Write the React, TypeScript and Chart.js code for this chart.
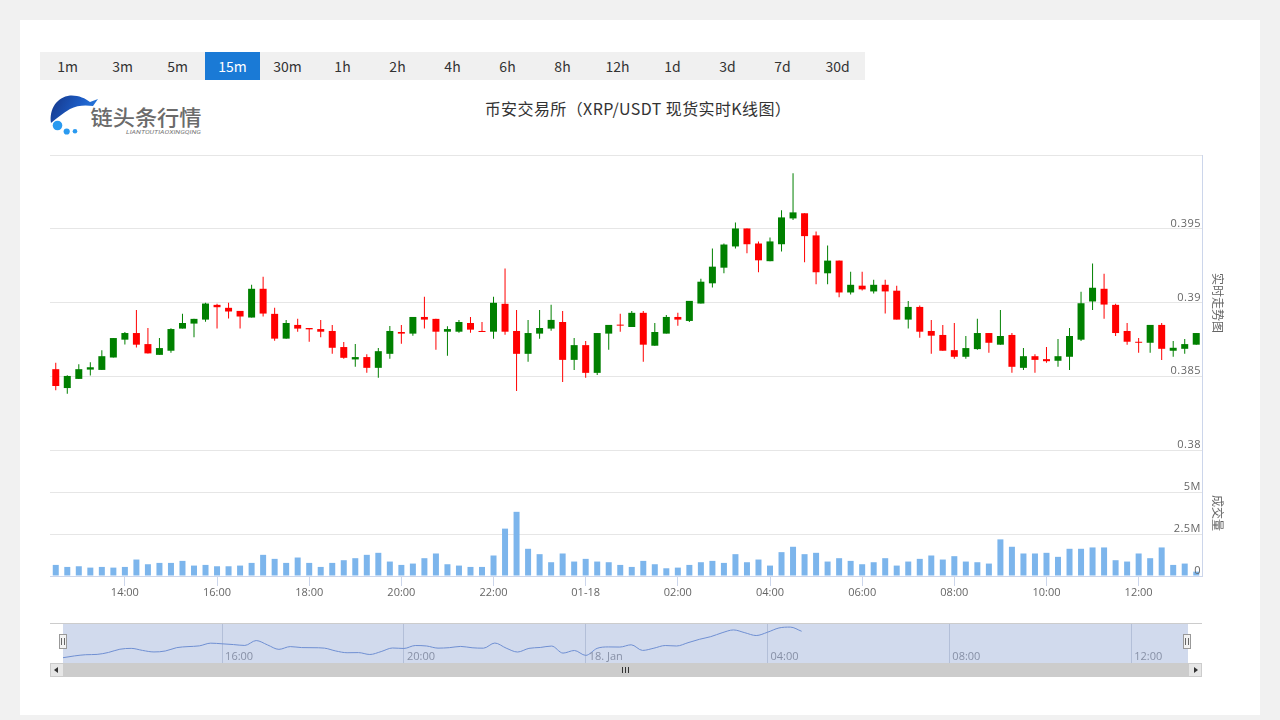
import React, { useEffect, useRef } from 'react';
import { Chart, registerables } from 'chart.js';

Chart.register(...registerables);

// ---------- texts ----------
const intervals = ['1m', '3m', '5m', '15m', '30m', '1h', '2h', '4h', '6h', '8h', '12h', '1d', '3d', '7d', '30d'];
const activeInterval = '15m';
const chartTitle = '币安交易所（XRP/USDT 现货实时K线图）';
const priceAxisTitle = '实时走势图';
const volumeAxisTitle = '成交量';

// ---------- data (15m candles, 12:30 -> 13:15 next day) ----------
const opens = [
  0.38548, 0.38420, 0.38482, 0.38545, 0.38543, 0.38627, 0.38748, 0.38793, 0.38718, 0.38645,
  0.38673, 0.38823, 0.38857, 0.38884, 0.38984, 0.38964, 0.38943, 0.38898, 0.39093, 0.38923,
  0.38755, 0.38848, 0.38827, 0.38820, 0.38807, 0.38698, 0.38614, 0.38630, 0.38557, 0.38652,
  0.38800, 0.38789, 0.38902, 0.38889, 0.38802, 0.38802, 0.38861, 0.38807, 0.38802, 0.38991,
  0.38807, 0.38652, 0.38789, 0.38823, 0.38868, 0.38611, 0.38711, 0.38523, 0.38789, 0.38850,
  0.38834, 0.38930, 0.38707, 0.38789, 0.38902, 0.38875, 0.38993, 0.39130, 0.39236, 0.39380,
  0.39502, 0.39400, 0.39280, 0.39395, 0.39570, 0.39605, 0.39455, 0.39198, 0.39284, 0.39068,
  0.39114, 0.39075, 0.39120, 0.39080, 0.38884, 0.38970, 0.38807, 0.38780, 0.38677, 0.38632,
  0.38684, 0.38793, 0.38714, 0.38780, 0.38557, 0.38636, 0.38616, 0.38605, 0.38632, 0.38748,
  0.39007, 0.39093, 0.38984, 0.38807, 0.38732, 0.38727, 0.38848, 0.38673, 0.38686, 0.38714,
];
const highs = [
  0.38591, 0.38507, 0.38582, 0.38595, 0.38677, 0.38759, 0.38800, 0.38950, 0.38827, 0.38759,
  0.38825, 0.38923, 0.38889, 0.38998, 0.38991, 0.38998, 0.38943, 0.39120, 0.39175, 0.38964,
  0.38882, 0.38889, 0.38827, 0.38882, 0.38848, 0.38732, 0.38718, 0.38650, 0.38691, 0.38841,
  0.38848, 0.38902, 0.39039, 0.38889, 0.38839, 0.38882, 0.38902, 0.38868, 0.39039, 0.39230,
  0.38950, 0.38882, 0.38950, 0.38984, 0.38943, 0.38759, 0.38739, 0.38793, 0.38848, 0.38923,
  0.38943, 0.38943, 0.38861, 0.38916, 0.38930, 0.39011, 0.39161, 0.39366, 0.39400, 0.39543,
  0.39502, 0.39414, 0.39441, 0.39625, 0.39877, 0.39605, 0.39482, 0.39386, 0.39284, 0.39209,
  0.39209, 0.39155, 0.39155, 0.39114, 0.39011, 0.38980, 0.38882, 0.38848, 0.38861, 0.38773,
  0.38889, 0.38793, 0.38950, 0.38793, 0.38691, 0.38650, 0.38698, 0.38752, 0.38827, 0.39073,
  0.39264, 0.39195, 0.38991, 0.38861, 0.38759, 0.38848, 0.38861, 0.38739, 0.38752, 0.38793,
];
const lows = [
  0.38405, 0.38382, 0.38482, 0.38505, 0.38543, 0.38627, 0.38716, 0.38695, 0.38655, 0.38645,
  0.38659, 0.38823, 0.38764, 0.38870, 0.38823, 0.38891, 0.38823, 0.38898, 0.38905, 0.38741,
  0.38755, 0.38802, 0.38734, 0.38764, 0.38652, 0.38618, 0.38564, 0.38523, 0.38489, 0.38618,
  0.38720, 0.38775, 0.38823, 0.38680, 0.38639, 0.38795, 0.38795, 0.38800, 0.38755, 0.38782,
  0.38400, 0.38598, 0.38755, 0.38809, 0.38461, 0.38543, 0.38489, 0.38509, 0.38680, 0.38802,
  0.38834, 0.38598, 0.38707, 0.38789, 0.38843, 0.38868, 0.38993, 0.39102, 0.39198, 0.39366,
  0.39334, 0.39205, 0.39280, 0.39345, 0.39559, 0.39273, 0.39123, 0.39123, 0.39036, 0.39055,
  0.39082, 0.39061, 0.38925, 0.38884, 0.38823, 0.38761, 0.38652, 0.38673, 0.38618, 0.38618,
  0.38680, 0.38659, 0.38714, 0.38523, 0.38543, 0.38523, 0.38591, 0.38564, 0.38543, 0.38739,
  0.38950, 0.38889, 0.38773, 0.38714, 0.38659, 0.38659, 0.38611, 0.38632, 0.38652, 0.38714,
];
const closes = [
  0.38434, 0.38502, 0.38548, 0.38561, 0.38636, 0.38759, 0.38793, 0.38714, 0.38655, 0.38691,
  0.38820, 0.38861, 0.38889, 0.38993, 0.38968, 0.38939, 0.38905, 0.39093, 0.38925, 0.38755,
  0.38861, 0.38823, 0.38818, 0.38802, 0.38693, 0.38625, 0.38630, 0.38557, 0.38670, 0.38807,
  0.38789, 0.38902, 0.38884, 0.38802, 0.38820, 0.38868, 0.38816, 0.38800, 0.38998, 0.38802,
  0.38652, 0.38793, 0.38827, 0.38882, 0.38611, 0.38711, 0.38523, 0.38793, 0.38848, 0.38843,
  0.38930, 0.38714, 0.38800, 0.38902, 0.38884, 0.39011, 0.39141, 0.39243, 0.39393, 0.39502,
  0.39395, 0.39286, 0.39414, 0.39577, 0.39611, 0.39450, 0.39205, 0.39284, 0.39068, 0.39120,
  0.39089, 0.39120, 0.39075, 0.38884, 0.38970, 0.38802, 0.38775, 0.38673, 0.38632, 0.38691,
  0.38793, 0.38727, 0.38773, 0.38564, 0.38636, 0.38611, 0.38602, 0.38636, 0.38773, 0.38995,
  0.39100, 0.38986, 0.38793, 0.38734, 0.38727, 0.38848, 0.38686, 0.38693, 0.38718, 0.38793,
];
// volume, in millions
const volumes = [
  0.66, 0.54, 0.58, 0.50, 0.54, 0.50, 0.54, 0.98, 0.70, 0.78,
  0.78, 0.90, 0.62, 0.66, 0.58, 0.58, 0.62, 0.78, 1.26, 1.02,
  0.78, 1.10, 0.78, 0.54, 0.78, 0.94, 1.06, 1.26, 1.38, 0.86,
  0.66, 0.74, 1.06, 1.34, 0.70, 0.62, 0.54, 0.54, 1.22, 2.82,
  3.82, 1.62, 1.30, 0.82, 1.34, 0.86, 1.02, 0.86, 0.82, 0.66,
  0.54, 0.90, 0.70, 0.46, 0.50, 0.66, 0.82, 0.90, 0.78, 1.30,
  0.82, 0.98, 0.62, 1.42, 1.74, 1.30, 1.38, 0.86, 1.06, 0.90,
  0.70, 0.82, 1.06, 0.62, 0.86, 1.02, 1.22, 0.98, 1.18, 0.86,
  0.82, 0.74, 2.18, 1.74, 1.34, 1.34, 1.38, 1.14, 1.62, 1.62,
  1.70, 1.70, 0.94, 0.86, 1.34, 1.06, 1.70, 0.66, 0.74, 0.26,
];

// time categories (HH:MM every 15 minutes starting 12:30)
const startMinute = 12 * 60 + 30;
const categories: string[] = opens.map((_, i) => {
  const m = (startMinute + i * 15) % 1440;
  return String(Math.floor(m / 60)).padStart(2, '0') + ':' + String(m % 60).padStart(2, '0');
});

// axis ticks
const xTickCats = ['14:00', '16:00', '18:00', '20:00', '22:00', '00:00', '02:00', '04:00', '06:00', '08:00', '10:00', '12:00'];
const xTickLabels = ['14:00', '16:00', '18:00', '20:00', '22:00', '01-18', '02:00', '04:00', '06:00', '08:00', '10:00', '12:00'];
const priceTicks = [0.38, 0.385, 0.39, 0.395];
const priceTickLabels = ['0.38', '0.385', '0.39', '0.395'];
const volumeTicks = [0, 2.5, 5];
const volumeTickLabels = ['0', '2.5M', '5M'];
const navTickCats = ['16:00', '20:00', '00:00', '04:00', '08:00', '12:00'];
const navTickLabels = ['16:00', '20:00', '18. Jan', '04:00', '08:00', '12:00'];
const navPointCount = 66;

const UP = '#008000';
const DOWN = '#ff0000';
const VOL = '#7cb5ec';
const FONT = '"Open Sans", "Noto Sans CJK SC", sans-serif';

const xTickIndex = xTickCats.map((c) => categories.indexOf(c));
const navTickIndex = navTickCats.map((c) => categories.indexOf(c));

const candleColor = (ctx: any) => (closes[ctx.dataIndex] >= opens[ctx.dataIndex] ? UP : DOWN);

const yLabelPlugin = {
  id: 'yLabels',
  afterDraw(chart: any) {
    const { ctx, chartArea } = chart;
    ctx.save();
    ctx.font = '11px ' + FONT;
    ctx.fillStyle = '#666666';
    ctx.textAlign = 'right';
    ctx.textBaseline = 'alphabetic';
    try { ctx.letterSpacing = '0.5px'; } catch (e) { /* ignore */ }
    const py = chart.scales.y;
    priceTicks.forEach((v, k) => {
      ctx.fillText(priceTickLabels[k], chartArea.right - 1, py.getPixelForValue(v) - 2);
    });
    const vy = chart.scales.yv;
    volumeTicks.forEach((v, k) => {
      ctx.fillText(volumeTickLabels[k], chartArea.right - 1, vy.getPixelForValue(v) - 2);
    });
    ctx.restore();
  },
};

const navLabelPlugin = {
  id: 'navLabels',
  afterDraw(chart: any) {
    const { ctx, chartArea } = chart;
    const xs = chart.scales.x;
    ctx.save();
    ctx.font = '11px ' + FONT;
    ctx.fillStyle = '#8790a6';
    ctx.textAlign = 'left';
    ctx.textBaseline = 'alphabetic';
    navTickIndex.forEach((v, k) => {
      ctx.fillText(navTickLabels[k], xs.getPixelForValue(v) + 3, chartArea.bottom - 3);
    });
    ctx.restore();
  },
};

export default function App() {
  const mainRef = useRef<HTMLCanvasElement>(null);
  const navRef = useRef<HTMLCanvasElement>(null);

  useEffect(() => {
    const main = new Chart(mainRef.current as HTMLCanvasElement, {
      type: 'bar',
      data: {
        labels: categories,
        datasets: [
          {
            label: 'body',
            data: opens.map((o, i) => [o, closes[i]]) as any,
            backgroundColor: candleColor as any,
            barThickness: 7,
            minBarLength: 1,
            grouped: false,
            inflateAmount: 0,
            yAxisID: 'y',
            order: 1,
          } as any,
          {
            label: 'wick',
            data: lows.map((l, i) => [l, highs[i]]) as any,
            backgroundColor: candleColor as any,
            barThickness: 1,
            grouped: false,
            inflateAmount: 0,
            yAxisID: 'y',
            order: 2,
          } as any,
          {
            label: 'volume',
            data: volumes,
            backgroundColor: VOL,
            barThickness: 6,
            grouped: false,
            inflateAmount: 0,
            yAxisID: 'yv',
            order: 3,
          } as any,
        ],
      },
      options: {
        animation: false,
        responsive: false,
        maintainAspectRatio: false,
        layout: { padding: { top: 5, right: 8, left: 0, bottom: 0 } },
        plugins: { legend: { display: false }, tooltip: { enabled: false } },
        scales: {
          x: {
            type: 'category',
            offset: true,
            grid: {
              drawOnChartArea: false,
              offset: false,
              tickLength: 10,
              color: (c: any) => (xTickIndex.includes(c.index) ? '#ccd6eb' : 'rgba(0,0,0,0)'),
            },
            border: { display: true, color: '#ccd6eb' },
            ticks: {
              autoSkip: false,
              maxRotation: 0,
              minRotation: 0,
              padding: 0,
              color: '#666666',
              font: { family: FONT, size: 11 },
              callback: (_v: any, i: number) => {
                const k = xTickIndex.indexOf(i);
                return k >= 0 ? xTickLabels[k] : '';
              },
            },
            afterFit: (s: any) => {
              s.height = 30;
              s.paddingLeft = 0;
              s.paddingRight = 0;
            },
          },
          y: {
            type: 'linear',
            position: 'right',
            stack: 'main',
            stackWeight: 295,
            min: 0.38,
            max: 0.4,
            ticks: { display: false, stepSize: 0.005 },
            grid: { color: '#e6e6e6', drawTicks: false },
            border: { display: true, color: '#ccd6eb' },
          },
          yv: {
            type: 'linear',
            position: 'right',
            stack: 'main',
            stackWeight: 126,
            min: 0,
            max: 7.5,
            ticks: { display: false, stepSize: 2.5 },
            grid: { color: '#e6e6e6', drawTicks: false },
            border: { display: true, color: '#ccd6eb' },
          },
        } as any,
      },
      plugins: [yLabelPlugin],
    });

    const nav = new Chart(navRef.current as HTMLCanvasElement, {
      type: 'line',
      data: {
        datasets: [
          {
            data: closes.slice(0, navPointCount).map((c, i) => ({ x: i, y: c })),
            borderColor: '#6f8fd2',
            borderWidth: 1,
            pointRadius: 0,
            fill: false,
            cubicInterpolationMode: 'monotone',
          } as any,
        ],
      },
      options: {
        animation: false,
        responsive: false,
        maintainAspectRatio: false,
        layout: { padding: 0 },
        plugins: { legend: { display: false }, tooltip: { enabled: false } },
        scales: {
          x: {
            type: 'linear',
            min: 0,
            max: categories.length - 1,
            ticks: { display: false },
            grid: { drawTicks: false, color: '#b3bfd8' },
            border: { display: false },
            afterBuildTicks: (s: any) => {
              s.ticks = navTickIndex.map((v) => ({ value: v }));
            },
          },
          y: { display: false, min: 0.3823, max: 0.3973 },
        } as any,
      },
      plugins: [navLabelPlugin],
    });

    return () => {
      main.destroy();
      nav.destroy();
    };
  }, []);

  const abs = (s: React.CSSProperties): React.CSSProperties => ({ position: 'absolute', ...s });

  return (
    <div style={abs({ left: 0, top: 0, width: 1280, height: 720, background: '#f1f1f1', overflow: 'hidden', fontFamily: '"Noto Sans CJK SC", sans-serif' })}>
      <div style={abs({ left: 20, top: 20, width: 1240, height: 695, background: '#ffffff' })} />

      {/* interval tabs */}
      <div style={abs({ left: 40, top: 52, width: 825, height: 28, background: '#f0f0f0', display: 'flex' })}>
        {intervals.map((t) => (
          <div
            key={t}
            style={{
              width: 55,
              height: 28,
              lineHeight: '28px',
              textAlign: 'center',
              fontSize: 14,
              color: t === activeInterval ? '#ffffff' : '#333333',
              background: t === activeInterval ? '#1a7ad6' : 'transparent',
            }}
          >
            {t}
          </div>
        ))}
      </div>

      {/* logo */}
      <svg style={abs({ left: 46, top: 90 })} width={165} height={52} viewBox="0 0 165 52">
        <defs>
          <linearGradient id="lg1" x1="0" y1="0.3" x2="1" y2="0.6">
            <stop offset="0" stopColor="#163a8e" />
            <stop offset="0.6" stopColor="#1d5ec8" />
            <stop offset="1" stopColor="#2a7fe0" />
          </linearGradient>
        </defs>
        <path d="M5 33 C 3 19, 11 7, 24 5.5 C 32 5, 39 8, 44 12 L 52 9 L 47 16 C 40 15, 31 15, 24 19 C 17 23, 11 28, 5 33 Z" fill="url(#lg1)" />
        <circle cx="11.5" cy="35.5" r="4.8" fill="#2a9af0" />
        <circle cx="20.7" cy="41.5" r="3.1" fill="#2a9af0" />
        <circle cx="29" cy="41.3" r="2.3" fill="#2a9af0" />
        <text x="44.5" y="35" fontSize="21" fill="#6b6b6b" fontWeight="500" fontFamily='"Noto Sans CJK SC"' textLength="111" lengthAdjust="spacingAndGlyphs">链头条行情</text>
        <text x="80" y="44" fontSize="5.5" fill="#777777" fontStyle="italic" fontFamily="Roboto" textLength="75" lengthAdjust="spacingAndGlyphs">LIANTOUTIAOXINGQING</text>
      </svg>

      {/* title */}
      <div style={abs({ left: 388, top: 97, width: 500, height: 22, lineHeight: '22px', textAlign: 'center', fontSize: 16, letterSpacing: 0.4, color: '#333333' })}>{chartTitle}</div>

      {/* main chart */}
      <canvas ref={mainRef} width={1160} height={456} style={abs({ left: 50, top: 150, width: 1160, height: 456 })} />

      {/* axis titles */}
      <div style={abs({ left: 1178, top: 294, width: 80, height: 18, lineHeight: '18px', textAlign: 'center', fontSize: 12, color: '#666666', transform: 'rotate(90deg)' })}>{priceAxisTitle}</div>
      <div style={abs({ left: 1178, top: 504, width: 80, height: 18, lineHeight: '18px', textAlign: 'center', fontSize: 12, color: '#666666', transform: 'rotate(90deg)' })}>{volumeAxisTitle}</div>

      {/* navigator */}
      <div style={abs({ left: 50, top: 623, width: 1152, height: 1, background: '#cccccc' })} />
      <div style={abs({ left: 63, top: 624, width: 1125, height: 39, background: 'rgba(102,133,194,0.3)' })} />
      <canvas ref={navRef} width={1125} height={39} style={abs({ left: 63, top: 624, width: 1125, height: 39 })} />
      {[63, 1187].map((x) => (
        <div key={x} style={abs({ left: x - 4, top: 634, width: 8, height: 15, boxSizing: 'border-box', border: '1px solid #999999', background: '#f2f2f2' })}>
          <div style={abs({ left: 1, top: 3, width: 1, height: 7, background: '#666666' })} />
          <div style={abs({ left: 4, top: 3, width: 1, height: 7, background: '#666666' })} />
        </div>
      ))}

      {/* scrollbar */}
      <div style={abs({ left: 50, top: 663, width: 1152, height: 14, background: '#f2f2f2' })} />
      <div style={abs({ left: 64, top: 663, width: 1124, height: 14, background: '#cccccc' })} />
      {[622, 625, 628].map((x) => (
        <div key={x} style={abs({ left: x, top: 667, width: 1, height: 6, background: '#333333' })} />
      ))}
      <div style={abs({ left: 50, top: 663, width: 14, height: 14, boxSizing: 'border-box', border: '1px solid #cccccc', background: '#e6e6e6' })}>
        <div style={abs({ left: 3, top: 3, width: 0, height: 0, borderTop: '3px solid transparent', borderBottom: '3px solid transparent', borderRight: '4px solid #333333' })} />
      </div>
      <div style={abs({ left: 1188, top: 663, width: 14, height: 14, boxSizing: 'border-box', border: '1px solid #cccccc', background: '#e6e6e6' })}>
        <div style={abs({ left: 5, top: 3, width: 0, height: 0, borderTop: '3px solid transparent', borderBottom: '3px solid transparent', borderLeft: '4px solid #333333' })} />
      </div>
    </div>
  );
}
